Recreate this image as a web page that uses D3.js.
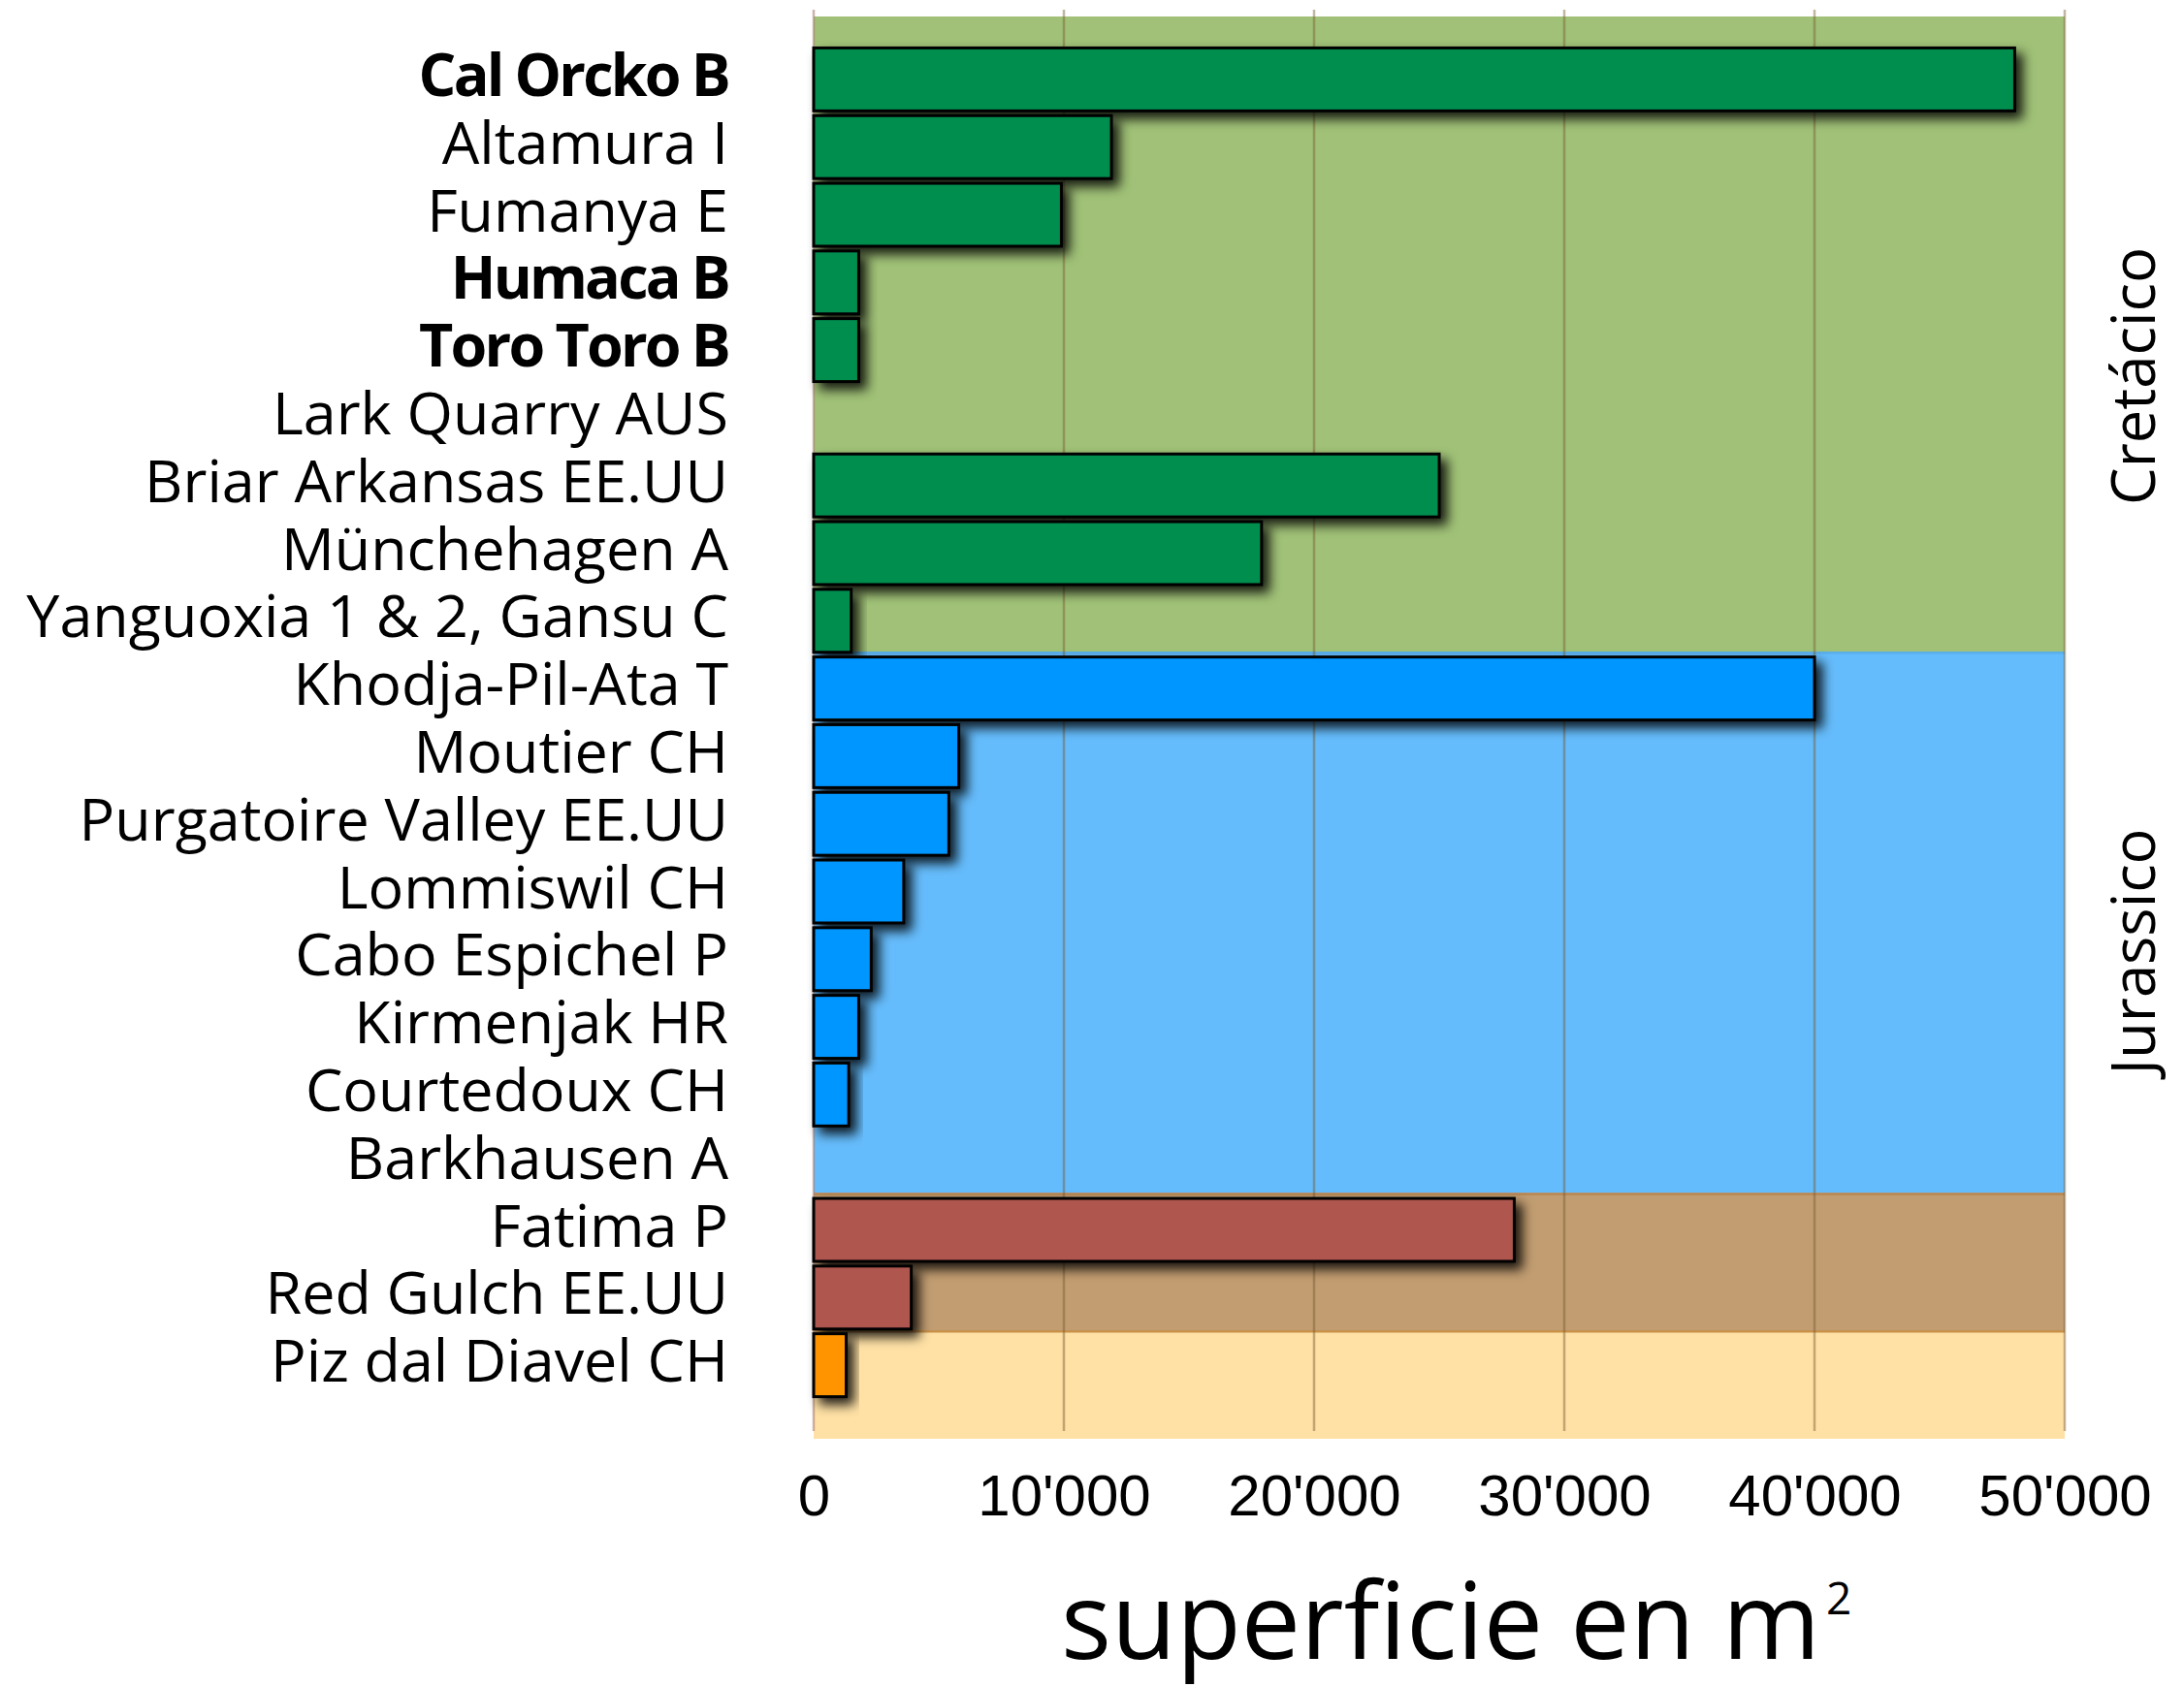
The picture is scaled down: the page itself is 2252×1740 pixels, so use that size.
<!DOCTYPE html>
<html>
<head>
<meta charset="utf-8">
<script src="https://cdn.jsdelivr.net/npm/d3@7"></script>
<style>
html,body{margin:0;padding:0;background:#fff;}
svg{display:block;}
</style>
</head>
<body>
<svg id="chart" width="2252" height="1740"></svg>
<script>
// ---- data ----
const categories = ["Cal Orcko B","Altamura I","Fumanya E","Humaca B","Toro Toro B","Lark Quarry AUS","Briar Arkansas EE.UU","Münchehagen A","Yanguoxia 1 & 2, Gansu C","Khodja-Pil-Ata T","Moutier CH","Purgatoire Valley EE.UU","Lommiswil CH","Cabo Espichel P","Kirmenjak HR","Courtedoux CH","Barkhausen A","Fatima P","Red Gulch EE.UU","Piz dal Diavel CH"];
const values = [48000,11900,9900,1800,1800,0,25000,17900,1500,40000,5800,5400,3600,2300,1800,1400,null,28000,3900,1300];
const boldLabels = ["Cal Orcko B","Humaca B","Toro Toro B"];
const periodOf = [0,0,0,0,0,0,0,0,0,1,1,1,1,1,1,1,1,2,2,3];
const periodNames = ["Cretácico","Jurassico","",""];
const periodBg = ["#a0c177","#65bcfc","#c29d71","#ffe1a5"];
const periodEdge = ["#8fb066","#5aaeea","#b88650","#c8914a"];
const periodBar = ["#008e50","#0096ff","#af574f","#ff9300"];
const tickValues = [0,10000,20000,30000,40000,50000];
const axisTitle = "superficie en m";
const axisTitleSup = "2";

// ---- layout ----
const svg = d3.select("#chart");
const x = d3.scaleLinear().domain([0,50000]).range([839,2129]);
const y = d3.scaleBand().domain(categories).range([47,1443]).paddingInner(0.07).paddingOuter(0.035);
const step = y.step();
const slotStart = i => 47 + i*step;

const defs = svg.append("defs");
const f = defs.append("filter").attr("id","shadow").attr("x","-20%").attr("y","-30%").attr("width","160%").attr("height","200%");
f.append("feDropShadow").attr("dx",7).attr("dy",7).attr("stdDeviation",6).attr("flood-color","#000").attr("flood-opacity",0.85);

// period backgrounds
const periods = d3.range(periodNames.length).map(p => {
  const idx = periodOf.map((d,i)=>d===p?i:-1).filter(i=>i>=0);
  return {p, first: idx[0], last: idx[idx.length-1]};
});
const bgTop = p => p.first===0 ? 17 : slotStart(p.first) - (p.p===3 ? 1 : 3);
const bgBottom = p => p.p===periods.length-1 ? 1484 : bgTop(periods[p.p+1]);

svg.append("g").selectAll("rect").data(periods).join("rect")
  .attr("x", x(0)).attr("width", x(50000)-x(0))
  .attr("y", d=>bgTop(d)).attr("height", d=>bgBottom(d)-bgTop(d))
  .attr("fill", d=>periodBg[d.p]);
// thin edges between periods
svg.append("g").selectAll("line").data(periods.slice(1)).join("line")
  .attr("x1", x(0)).attr("x2", x(50000))
  .attr("y1", d=>bgTop(d)+1).attr("y2", d=>bgTop(d)+1)
  .attr("stroke", d=>periodEdge[d.p]).attr("stroke-width",2.5);

// gridlines
svg.append("g").selectAll("line").data(tickValues).join("line")
  .attr("x1", d=>x(d)).attr("x2", d=>x(d))
  .attr("y1", 10).attr("y2", 1476)
  .attr("stroke", d=> d===0 ? "rgb(170,130,120)" : "rgb(120,90,50)")
  .attr("stroke-opacity", d=> d===0 ? 0.6 : 0.45)
  .attr("stroke-width", 2.5);

// bars
const barData = categories.map((c,i)=>({c, v:values[i], p:periodOf[i]})).filter(d=>d.v!==null);
svg.append("g").selectAll("rect").data(barData).join("rect")
  .attr("x", x(0))
  .attr("y", d=>y(d.c))
  .attr("width", d=>x(d.v)-x(0))
  .attr("height", y.bandwidth())
  .attr("fill", d=>periodBar[d.p])
  .attr("stroke","#000").attr("stroke-width",3)
  .attr("filter","url(#shadow)");

// category labels
svg.append("g").selectAll("text").data(categories).join("text")
  .attr("x", 751)
  .attr("y", d=>y(d)+y.bandwidth()/2)
  .attr("dy", 17)
  .attr("text-anchor","end")
  .attr("font-family","'Open Sans', sans-serif")
  .attr("font-size", 61)
  .attr("font-weight", d=>boldLabels.includes(d)?700:400)
  .attr("letter-spacing", d=>boldLabels.includes(d)?-2.8:0)
  .attr("fill","#000")
  .text(d=>d);

// x axis tick labels
const loc = d3.formatLocale({decimal:".", thousands:"'", grouping:[3], currency:["",""]});
const fmt = loc.format(",");
const ax = svg.append("g").attr("transform","translate(0,1520)")
  .call(d3.axisBottom(x).tickValues(tickValues).tickFormat(fmt).tickSize(0).tickPadding(0));
ax.select(".domain").remove();
ax.selectAll("text")
  .attr("font-family","'Liberation Sans', Arial, sans-serif")
  .attr("font-size",60).attr("fill","#000").attr("dy",43);

// axis title
const cx = (x(0)+x(50000))/2;
svg.append("text")
  .attr("x", cx - 390).attr("y", 1711)
  .attr("font-family","'Open Sans', sans-serif").attr("font-size",110)
  .attr("textLength",783).attr("lengthAdjust","spacingAndGlyphs")
  .attr("fill","#000").text(axisTitle);
svg.append("text")
  .attr("x", cx - 390 + 789).attr("y", 1665)
  .attr("font-family","'Open Sans', sans-serif").attr("font-size",46)
  .attr("fill","#000").text(axisTitleSup);

// period labels (rotated)
svg.append("g").selectAll("text").data(periods.filter(d=>periodNames[d.p])).join("text")
  .attr("transform", d=>{
    const cy = (slotStart(d.first)+slotStart(d.last+1))/2 + 27;
    return `translate(2222,${cy}) rotate(-90)`;
  })
  .attr("text-anchor","middle")
  .attr("font-family","'Open Sans', sans-serif").attr("font-size",63)
  .attr("textLength", d=> d.p===0 ? 266 : 254).attr("lengthAdjust","spacingAndGlyphs")
  .attr("fill","#000")
  .text(d=>periodNames[d.p]);
</script>
</body>
</html>
